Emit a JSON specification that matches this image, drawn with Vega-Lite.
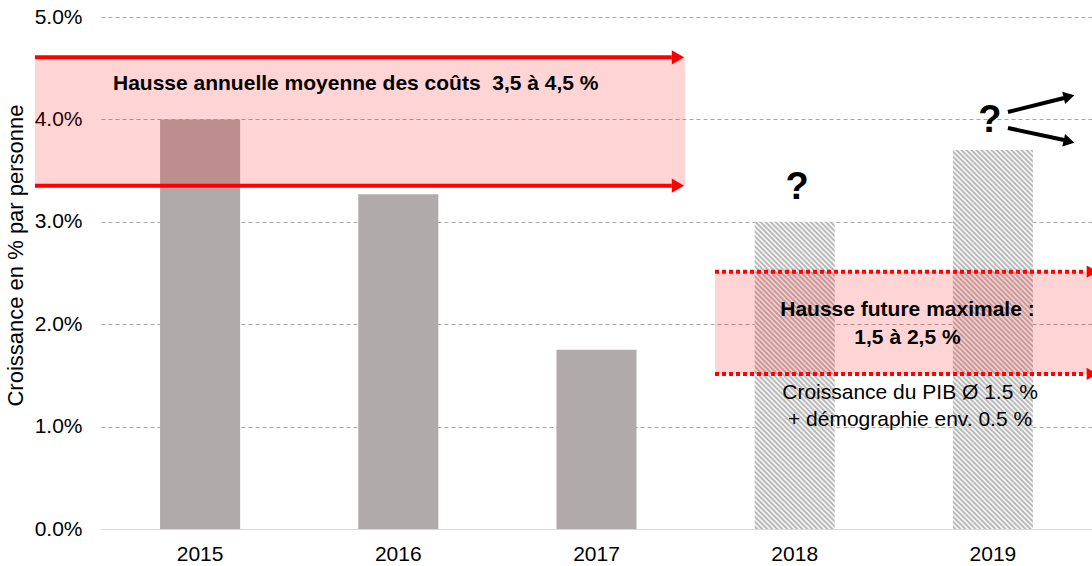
{
  "$schema": "https://vega.github.io/schema/vega-lite/v6.json",
  "width": 991,
  "height": 512,
  "autosize": {"type": "none"},
  "padding": {"left": 101, "top": 17, "right": 0, "bottom": 37},
  "background": "#ffffff",
  "config": {
    "view": {"stroke": null},
    "font": "Liberation Sans",
    "axis": {"labelFont": "Liberation Sans", "titleFont": "Liberation Sans"}
  },
  "datasets": {
    "bars": [
      {"year": "2015", "v": 4.0},
      {"year": "2016", "v": 3.27},
      {"year": "2017", "v": 1.75},
      {"year": "2018", "v": 3.0},
      {"year": "2019", "v": 3.7}
    ],
    "bands": [
      {"x1": -0.333, "x2": 2.947, "y1": 3.353, "y2": 4.606},
      {"x1": 3.098, "x2": 5.0, "y1": 1.514, "y2": 2.513}
    ],
    "solid": [
      {"x1": -0.333, "x2": 2.88, "y": 4.606},
      {"x1": -0.333, "x2": 2.88, "y": 3.353}
    ],
    "solidHeads": [{"x": 2.911, "y": 4.606}, {"x": 2.911, "y": 3.353}],
    "dotted": [
      {"x1": 3.098, "x2": 4.97, "y": 2.513},
      {"x1": 3.098, "x2": 4.97, "y": 1.514}
    ],
    "dottedHeads": [{"x": 5.0, "y": 2.513}, {"x": 5.0, "y": 1.514}],
    "arrowUp": [{"x1": 4.576, "x2": 4.859, "y1": 4.072, "y2": 4.209}],
    "arrowUpHead": [{"x": 4.884, "y": 4.224}],
    "arrowDown": [{"x1": 4.576, "x2": 4.859, "y1": 3.916, "y2": 3.799}],
    "arrowDownHead": [{"x": 4.884, "y": 3.784}],
    "headline": [{"x": 0.0605, "y": 4.346, "label": "Hausse annuelle moyenne des coûts\u00a0 3,5 à 4,5 %"}],
    "questions": [{"x": 3.512, "y": 3.33, "label": "?"}, {"x": 4.485, "y": 3.984, "label": "?"}],
    "future": [
      {"x": 4.069, "y": 2.139, "label": "Hausse future maximale :"},
      {"x": 4.069, "y": 1.865, "label": "1,5 à 2,5 %"}
    ],
    "notes": [
      {"x": 4.082, "y": 1.328, "label": "Croissance du PIB Ø 1.5 %"},
      {"x": 4.082, "y": 1.064, "label": "+ démographie env. 0.5 %"}
    ]
  },
  "layer": [
    {
      "data": {"name": "bars"},
      "encoding": {
        "x": {
          "field": "year", "type": "nominal",
          "scale": {"domain": ["2015", "2016", "2017", "2018", "2019"], "paddingInner": 0.596, "paddingOuter": 0.298},
          "axis": {"title": null, "labelFontSize": 21, "labelColor": "#000000", "labelPadding": 14, "labelAngle": 0, "ticks": false, "domain": true, "domainColor": "#d9d9d9", "domainWidth": 1, "grid": false}
        },
        "y": {
          "field": "v", "type": "quantitative",
          "scale": {"domain": [0, 5], "nice": false},
          "axis": {
            "title": "Croissance en % par personne", "titleFontSize": 22, "titleFontWeight": "normal", "titleColor": "#000000",
            "titleX": -86, "titleY": 238, "titleAlign": "center", "titleBaseline": "middle",
            "values": [0, 1, 2, 3, 4, 5], "labelExpr": "format(datum.value, '.1f') + '%'",
            "labelFontSize": 21, "labelColor": "#000000", "labelPadding": 19,
            "ticks": false, "domain": false, "grid": true, "gridColor": "#a6a6a6", "gridDash": [4, 3], "gridWidth": 1
          }
        }
      },
      "layer": [
        {
          "transform": [{"filter": "datum.year == '2015' || datum.year == '2016' || datum.year == '2017'"}],
          "mark": {"type": "bar", "color": "#b0abaa"}
        },
        {
          "transform": [{"filter": "datum.year == '2018'"}],
          "mark": {"type": "bar", "fill": {"gradient": "linear", "x1": 0, "y1": 1, "x2": 0.31794, "y2": -0.2209, "stops": [
            {"offset":0,"color":"#fff"},{"offset":0.00625,"color":"#aaa"},{"offset":0.0125,"color":"#fff"},{"offset":0.01875,"color":"#aaa"},{"offset":0.025,"color":"#fff"},{"offset":0.03125,"color":"#aaa"},{"offset":0.0375,"color":"#fff"},{"offset":0.04375,"color":"#aaa"},
            {"offset":0.05,"color":"#fff"},{"offset":0.05625,"color":"#aaa"},{"offset":0.0625,"color":"#fff"},{"offset":0.06875,"color":"#aaa"},{"offset":0.075,"color":"#fff"},{"offset":0.08125,"color":"#aaa"},{"offset":0.0875,"color":"#fff"},{"offset":0.09375,"color":"#aaa"},
            {"offset":0.1,"color":"#fff"},{"offset":0.10625,"color":"#aaa"},{"offset":0.1125,"color":"#fff"},{"offset":0.11875,"color":"#aaa"},{"offset":0.125,"color":"#fff"},{"offset":0.13125,"color":"#aaa"},{"offset":0.1375,"color":"#fff"},{"offset":0.14375,"color":"#aaa"},
            {"offset":0.15,"color":"#fff"},{"offset":0.15625,"color":"#aaa"},{"offset":0.1625,"color":"#fff"},{"offset":0.16875,"color":"#aaa"},{"offset":0.175,"color":"#fff"},{"offset":0.18125,"color":"#aaa"},{"offset":0.1875,"color":"#fff"},{"offset":0.19375,"color":"#aaa"},
            {"offset":0.2,"color":"#fff"},{"offset":0.20625,"color":"#aaa"},{"offset":0.2125,"color":"#fff"},{"offset":0.21875,"color":"#aaa"},{"offset":0.225,"color":"#fff"},{"offset":0.23125,"color":"#aaa"},{"offset":0.2375,"color":"#fff"},{"offset":0.24375,"color":"#aaa"},
            {"offset":0.25,"color":"#fff"},{"offset":0.25625,"color":"#aaa"},{"offset":0.2625,"color":"#fff"},{"offset":0.26875,"color":"#aaa"},{"offset":0.275,"color":"#fff"},{"offset":0.28125,"color":"#aaa"},{"offset":0.2875,"color":"#fff"},{"offset":0.29375,"color":"#aaa"},
            {"offset":0.3,"color":"#fff"},{"offset":0.30625,"color":"#aaa"},{"offset":0.3125,"color":"#fff"},{"offset":0.31875,"color":"#aaa"},{"offset":0.325,"color":"#fff"},{"offset":0.33125,"color":"#aaa"},{"offset":0.3375,"color":"#fff"},{"offset":0.34375,"color":"#aaa"},
            {"offset":0.35,"color":"#fff"},{"offset":0.35625,"color":"#aaa"},{"offset":0.3625,"color":"#fff"},{"offset":0.36875,"color":"#aaa"},{"offset":0.375,"color":"#fff"},{"offset":0.38125,"color":"#aaa"},{"offset":0.3875,"color":"#fff"},{"offset":0.39375,"color":"#aaa"},
            {"offset":0.4,"color":"#fff"},{"offset":0.40625,"color":"#aaa"},{"offset":0.4125,"color":"#fff"},{"offset":0.41875,"color":"#aaa"},{"offset":0.425,"color":"#fff"},{"offset":0.43125,"color":"#aaa"},{"offset":0.4375,"color":"#fff"},{"offset":0.44375,"color":"#aaa"},
            {"offset":0.45,"color":"#fff"},{"offset":0.45625,"color":"#aaa"},{"offset":0.4625,"color":"#fff"},{"offset":0.46875,"color":"#aaa"},{"offset":0.475,"color":"#fff"},{"offset":0.48125,"color":"#aaa"},{"offset":0.4875,"color":"#fff"},{"offset":0.49375,"color":"#aaa"},
            {"offset":0.5,"color":"#fff"},{"offset":0.50625,"color":"#aaa"},{"offset":0.5125,"color":"#fff"},{"offset":0.51875,"color":"#aaa"},{"offset":0.525,"color":"#fff"},{"offset":0.53125,"color":"#aaa"},{"offset":0.5375,"color":"#fff"},{"offset":0.54375,"color":"#aaa"},
            {"offset":0.55,"color":"#fff"},{"offset":0.55625,"color":"#aaa"},{"offset":0.5625,"color":"#fff"},{"offset":0.56875,"color":"#aaa"},{"offset":0.575,"color":"#fff"},{"offset":0.58125,"color":"#aaa"},{"offset":0.5875,"color":"#fff"},{"offset":0.59375,"color":"#aaa"},
            {"offset":0.6,"color":"#fff"},{"offset":0.60625,"color":"#aaa"},{"offset":0.6125,"color":"#fff"},{"offset":0.61875,"color":"#aaa"},{"offset":0.625,"color":"#fff"},{"offset":0.63125,"color":"#aaa"},{"offset":0.6375,"color":"#fff"},{"offset":0.64375,"color":"#aaa"},
            {"offset":0.65,"color":"#fff"},{"offset":0.65625,"color":"#aaa"},{"offset":0.6625,"color":"#fff"},{"offset":0.66875,"color":"#aaa"},{"offset":0.675,"color":"#fff"},{"offset":0.68125,"color":"#aaa"},{"offset":0.6875,"color":"#fff"},{"offset":0.69375,"color":"#aaa"},
            {"offset":0.7,"color":"#fff"},{"offset":0.70625,"color":"#aaa"},{"offset":0.7125,"color":"#fff"},{"offset":0.71875,"color":"#aaa"},{"offset":0.725,"color":"#fff"},{"offset":0.73125,"color":"#aaa"},{"offset":0.7375,"color":"#fff"},{"offset":0.74375,"color":"#aaa"},
            {"offset":0.75,"color":"#fff"},{"offset":0.75625,"color":"#aaa"},{"offset":0.7625,"color":"#fff"},{"offset":0.76875,"color":"#aaa"},{"offset":0.775,"color":"#fff"},{"offset":0.78125,"color":"#aaa"},{"offset":0.7875,"color":"#fff"},{"offset":0.79375,"color":"#aaa"},
            {"offset":0.8,"color":"#fff"},{"offset":0.80625,"color":"#aaa"},{"offset":0.8125,"color":"#fff"},{"offset":0.81875,"color":"#aaa"},{"offset":0.825,"color":"#fff"},{"offset":0.83125,"color":"#aaa"},{"offset":0.8375,"color":"#fff"},{"offset":0.84375,"color":"#aaa"},
            {"offset":0.85,"color":"#fff"},{"offset":0.85625,"color":"#aaa"},{"offset":0.8625,"color":"#fff"},{"offset":0.86875,"color":"#aaa"},{"offset":0.875,"color":"#fff"},{"offset":0.88125,"color":"#aaa"},{"offset":0.8875,"color":"#fff"},{"offset":0.89375,"color":"#aaa"},
            {"offset":0.9,"color":"#fff"},{"offset":0.90625,"color":"#aaa"},{"offset":0.9125,"color":"#fff"},{"offset":0.91875,"color":"#aaa"},{"offset":0.925,"color":"#fff"},{"offset":0.93125,"color":"#aaa"},{"offset":0.9375,"color":"#fff"},{"offset":0.94375,"color":"#aaa"},
            {"offset":0.95,"color":"#fff"},{"offset":0.95625,"color":"#aaa"},{"offset":0.9625,"color":"#fff"},{"offset":0.96875,"color":"#aaa"},{"offset":0.975,"color":"#fff"},{"offset":1,"color":"#fff"}
          ]}}
        },
        {
          "transform": [{"filter": "datum.year == '2019'"}],
          "mark": {"type": "bar", "fill": {"gradient": "linear", "x1": 0, "y1": 1, "x2": 0.26676, "y2": -0.2634, "stops": [
            {"offset":0,"color":"#fff"},{"offset":0.005,"color":"#aaa"},{"offset":0.01,"color":"#fff"},{"offset":0.015,"color":"#aaa"},{"offset":0.02,"color":"#fff"},{"offset":0.025,"color":"#aaa"},{"offset":0.03,"color":"#fff"},{"offset":0.035,"color":"#aaa"},{"offset":0.04,"color":"#fff"},{"offset":0.045,"color":"#aaa"},
            {"offset":0.05,"color":"#fff"},{"offset":0.055,"color":"#aaa"},{"offset":0.06,"color":"#fff"},{"offset":0.065,"color":"#aaa"},{"offset":0.07,"color":"#fff"},{"offset":0.075,"color":"#aaa"},{"offset":0.08,"color":"#fff"},{"offset":0.085,"color":"#aaa"},{"offset":0.09,"color":"#fff"},{"offset":0.095,"color":"#aaa"},
            {"offset":0.1,"color":"#fff"},{"offset":0.105,"color":"#aaa"},{"offset":0.11,"color":"#fff"},{"offset":0.115,"color":"#aaa"},{"offset":0.12,"color":"#fff"},{"offset":0.125,"color":"#aaa"},{"offset":0.13,"color":"#fff"},{"offset":0.135,"color":"#aaa"},{"offset":0.14,"color":"#fff"},{"offset":0.145,"color":"#aaa"},
            {"offset":0.15,"color":"#fff"},{"offset":0.155,"color":"#aaa"},{"offset":0.16,"color":"#fff"},{"offset":0.165,"color":"#aaa"},{"offset":0.17,"color":"#fff"},{"offset":0.175,"color":"#aaa"},{"offset":0.18,"color":"#fff"},{"offset":0.185,"color":"#aaa"},{"offset":0.19,"color":"#fff"},{"offset":0.195,"color":"#aaa"},
            {"offset":0.2,"color":"#fff"},{"offset":0.205,"color":"#aaa"},{"offset":0.21,"color":"#fff"},{"offset":0.215,"color":"#aaa"},{"offset":0.22,"color":"#fff"},{"offset":0.225,"color":"#aaa"},{"offset":0.23,"color":"#fff"},{"offset":0.235,"color":"#aaa"},{"offset":0.24,"color":"#fff"},{"offset":0.245,"color":"#aaa"},
            {"offset":0.25,"color":"#fff"},{"offset":0.255,"color":"#aaa"},{"offset":0.26,"color":"#fff"},{"offset":0.265,"color":"#aaa"},{"offset":0.27,"color":"#fff"},{"offset":0.275,"color":"#aaa"},{"offset":0.28,"color":"#fff"},{"offset":0.285,"color":"#aaa"},{"offset":0.29,"color":"#fff"},{"offset":0.295,"color":"#aaa"},
            {"offset":0.3,"color":"#fff"},{"offset":0.305,"color":"#aaa"},{"offset":0.31,"color":"#fff"},{"offset":0.315,"color":"#aaa"},{"offset":0.32,"color":"#fff"},{"offset":0.325,"color":"#aaa"},{"offset":0.33,"color":"#fff"},{"offset":0.335,"color":"#aaa"},{"offset":0.34,"color":"#fff"},{"offset":0.345,"color":"#aaa"},
            {"offset":0.35,"color":"#fff"},{"offset":0.355,"color":"#aaa"},{"offset":0.36,"color":"#fff"},{"offset":0.365,"color":"#aaa"},{"offset":0.37,"color":"#fff"},{"offset":0.375,"color":"#aaa"},{"offset":0.38,"color":"#fff"},{"offset":0.385,"color":"#aaa"},{"offset":0.39,"color":"#fff"},{"offset":0.395,"color":"#aaa"},
            {"offset":0.4,"color":"#fff"},{"offset":0.405,"color":"#aaa"},{"offset":0.41,"color":"#fff"},{"offset":0.415,"color":"#aaa"},{"offset":0.42,"color":"#fff"},{"offset":0.425,"color":"#aaa"},{"offset":0.43,"color":"#fff"},{"offset":0.435,"color":"#aaa"},{"offset":0.44,"color":"#fff"},{"offset":0.445,"color":"#aaa"},
            {"offset":0.45,"color":"#fff"},{"offset":0.455,"color":"#aaa"},{"offset":0.46,"color":"#fff"},{"offset":0.465,"color":"#aaa"},{"offset":0.47,"color":"#fff"},{"offset":0.475,"color":"#aaa"},{"offset":0.48,"color":"#fff"},{"offset":0.485,"color":"#aaa"},{"offset":0.49,"color":"#fff"},{"offset":0.495,"color":"#aaa"},
            {"offset":0.5,"color":"#fff"},{"offset":0.505,"color":"#aaa"},{"offset":0.51,"color":"#fff"},{"offset":0.515,"color":"#aaa"},{"offset":0.52,"color":"#fff"},{"offset":0.525,"color":"#aaa"},{"offset":0.53,"color":"#fff"},{"offset":0.535,"color":"#aaa"},{"offset":0.54,"color":"#fff"},{"offset":0.545,"color":"#aaa"},
            {"offset":0.55,"color":"#fff"},{"offset":0.555,"color":"#aaa"},{"offset":0.56,"color":"#fff"},{"offset":0.565,"color":"#aaa"},{"offset":0.57,"color":"#fff"},{"offset":0.575,"color":"#aaa"},{"offset":0.58,"color":"#fff"},{"offset":0.585,"color":"#aaa"},{"offset":0.59,"color":"#fff"},{"offset":0.595,"color":"#aaa"},
            {"offset":0.6,"color":"#fff"},{"offset":0.605,"color":"#aaa"},{"offset":0.61,"color":"#fff"},{"offset":0.615,"color":"#aaa"},{"offset":0.62,"color":"#fff"},{"offset":0.625,"color":"#aaa"},{"offset":0.63,"color":"#fff"},{"offset":0.635,"color":"#aaa"},{"offset":0.64,"color":"#fff"},{"offset":0.645,"color":"#aaa"},
            {"offset":0.65,"color":"#fff"},{"offset":0.655,"color":"#aaa"},{"offset":0.66,"color":"#fff"},{"offset":0.665,"color":"#aaa"},{"offset":0.67,"color":"#fff"},{"offset":0.675,"color":"#aaa"},{"offset":0.68,"color":"#fff"},{"offset":0.685,"color":"#aaa"},{"offset":0.69,"color":"#fff"},{"offset":0.695,"color":"#aaa"},
            {"offset":0.7,"color":"#fff"},{"offset":0.705,"color":"#aaa"},{"offset":0.71,"color":"#fff"},{"offset":0.715,"color":"#aaa"},{"offset":0.72,"color":"#fff"},{"offset":0.725,"color":"#aaa"},{"offset":0.73,"color":"#fff"},{"offset":0.735,"color":"#aaa"},{"offset":0.74,"color":"#fff"},{"offset":0.745,"color":"#aaa"},
            {"offset":0.75,"color":"#fff"},{"offset":0.755,"color":"#aaa"},{"offset":0.76,"color":"#fff"},{"offset":0.765,"color":"#aaa"},{"offset":0.77,"color":"#fff"},{"offset":0.775,"color":"#aaa"},{"offset":0.78,"color":"#fff"},{"offset":0.785,"color":"#aaa"},{"offset":0.79,"color":"#fff"},{"offset":0.795,"color":"#aaa"},
            {"offset":0.8,"color":"#fff"},{"offset":0.805,"color":"#aaa"},{"offset":0.81,"color":"#fff"},{"offset":0.815,"color":"#aaa"},{"offset":0.82,"color":"#fff"},{"offset":0.825,"color":"#aaa"},{"offset":0.83,"color":"#fff"},{"offset":0.835,"color":"#aaa"},{"offset":0.84,"color":"#fff"},{"offset":0.845,"color":"#aaa"},
            {"offset":0.85,"color":"#fff"},{"offset":0.855,"color":"#aaa"},{"offset":0.86,"color":"#fff"},{"offset":0.865,"color":"#aaa"},{"offset":0.87,"color":"#fff"},{"offset":0.875,"color":"#aaa"},{"offset":0.88,"color":"#fff"},{"offset":0.885,"color":"#aaa"},{"offset":0.89,"color":"#fff"},{"offset":0.895,"color":"#aaa"},
            {"offset":0.9,"color":"#fff"},{"offset":0.905,"color":"#aaa"},{"offset":0.91,"color":"#fff"},{"offset":0.915,"color":"#aaa"},{"offset":0.92,"color":"#fff"},{"offset":0.925,"color":"#aaa"},{"offset":0.93,"color":"#fff"},{"offset":0.935,"color":"#aaa"},{"offset":0.94,"color":"#fff"},{"offset":0.945,"color":"#aaa"},
            {"offset":0.95,"color":"#fff"},{"offset":1,"color":"#fff"}
          ]}}
        }
      ]
    },
    {
      "layer": [
        {
          "data": {"name": "bands"},
          "mark": {"type": "rect", "color": "#ff0000", "opacity": 0.17},
          "encoding": {
            "x": {"field": "x1", "type": "quantitative", "scale": {"domain": [0, 5], "nice": false, "zero": false}, "axis": null},
            "x2": {"field": "x2"},
            "y": {"field": "y1", "type": "quantitative", "scale": {"domain": [0, 5], "nice": false}, "axis": null},
            "y2": {"field": "y2"}
          }
        },
        {
          "data": {"name": "solid"},
          "mark": {"type": "rule", "color": "#ff0000", "strokeWidth": 4},
          "encoding": {
            "x": {"field": "x1", "type": "quantitative", "axis": null},
            "x2": {"field": "x2"},
            "y": {"field": "y", "type": "quantitative", "axis": null}
          }
        },
        {
          "data": {"name": "solidHeads"},
          "mark": {"type": "point", "shape": "triangle-right", "filled": true, "color": "#ff0000", "opacity": 1, "size": 200},
          "encoding": {
            "x": {"field": "x", "type": "quantitative", "axis": null},
            "y": {"field": "y", "type": "quantitative", "axis": null}
          }
        },
        {
          "data": {"name": "dotted"},
          "mark": {"type": "rule", "color": "#ff0000", "strokeWidth": 4, "strokeDash": [4, 3]},
          "encoding": {
            "x": {"field": "x1", "type": "quantitative", "axis": null},
            "x2": {"field": "x2"},
            "y": {"field": "y", "type": "quantitative", "axis": null}
          }
        },
        {
          "data": {"name": "dottedHeads"},
          "mark": {"type": "point", "shape": "triangle-right", "filled": true, "color": "#ff0000", "opacity": 1, "size": 150},
          "encoding": {
            "x": {"field": "x", "type": "quantitative", "axis": null},
            "y": {"field": "y", "type": "quantitative", "axis": null}
          }
        },
        {
          "data": {"name": "arrowUp"},
          "mark": {"type": "rule", "color": "#000000", "strokeWidth": 4},
          "encoding": {
            "x": {"field": "x1", "type": "quantitative", "axis": null},
            "x2": {"field": "x2"},
            "y": {"field": "y1", "type": "quantitative", "axis": null},
            "y2": {"field": "y2"}
          }
        },
        {
          "data": {"name": "arrowUpHead"},
          "mark": {"type": "point", "shape": "triangle-right", "filled": true, "color": "#000000", "opacity": 1, "size": 160, "angle": 346},
          "encoding": {
            "x": {"field": "x", "type": "quantitative", "axis": null},
            "y": {"field": "y", "type": "quantitative", "axis": null}
          }
        },
        {
          "data": {"name": "arrowDown"},
          "mark": {"type": "rule", "color": "#000000", "strokeWidth": 4},
          "encoding": {
            "x": {"field": "x1", "type": "quantitative", "axis": null},
            "x2": {"field": "x2"},
            "y": {"field": "y1", "type": "quantitative", "axis": null},
            "y2": {"field": "y2"}
          }
        },
        {
          "data": {"name": "arrowDownHead"},
          "mark": {"type": "point", "shape": "triangle-right", "filled": true, "color": "#000000", "opacity": 1, "size": 160, "angle": 13},
          "encoding": {
            "x": {"field": "x", "type": "quantitative", "axis": null},
            "y": {"field": "y", "type": "quantitative", "axis": null}
          }
        },
        {
          "data": {"name": "headline"},
          "mark": {"type": "text", "font": "Liberation Sans", "fontSize": 21, "fontWeight": "bold", "align": "left", "baseline": "middle", "color": "#000000"},
          "encoding": {
            "x": {"field": "x", "type": "quantitative", "axis": null},
            "y": {"field": "y", "type": "quantitative", "axis": null},
            "text": {"field": "label"}
          }
        },
        {
          "data": {"name": "questions"},
          "mark": {"type": "text", "font": "Liberation Sans", "fontSize": 38, "fontWeight": "bold", "align": "center", "baseline": "middle", "color": "#000000"},
          "encoding": {
            "x": {"field": "x", "type": "quantitative", "axis": null},
            "y": {"field": "y", "type": "quantitative", "axis": null},
            "text": {"field": "label"}
          }
        },
        {
          "data": {"name": "future"},
          "mark": {"type": "text", "font": "Liberation Sans", "fontSize": 21, "fontWeight": "bold", "align": "center", "baseline": "middle", "color": "#000000"},
          "encoding": {
            "x": {"field": "x", "type": "quantitative", "axis": null},
            "y": {"field": "y", "type": "quantitative", "axis": null},
            "text": {"field": "label"}
          }
        },
        {
          "data": {"name": "notes"},
          "mark": {"type": "text", "font": "Liberation Sans", "fontSize": 21, "fontWeight": "normal", "align": "center", "baseline": "middle", "color": "#000000"},
          "encoding": {
            "x": {"field": "x", "type": "quantitative", "axis": null},
            "y": {"field": "y", "type": "quantitative", "axis": null},
            "text": {"field": "label"}
          }
        }
      ]
    }
  ],
  "resolve": {"scale": {"x": "independent", "y": "independent"}}
}
